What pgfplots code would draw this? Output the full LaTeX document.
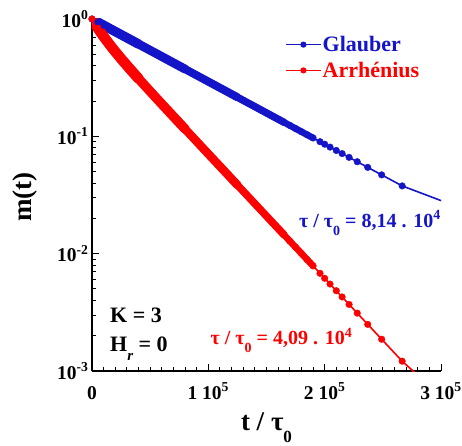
\documentclass[border=0pt]{standalone}
\usepackage{fontspec}
\setmainfont{Liberation Serif}
\usepackage{pgfplots}
\usepackage{pgfplotstable}
\pgfplotsset{compat=1.18}
\definecolor{bl}{RGB}{20,20,200}
\definecolor{rd}{RGB}{255,0,0}
\newcommand{\lo}[3]{\raisebox{#1}{\fontsize{#2}{#2}\selectfont #3}}

\pgfplotstableread{
t m
0 1
5000 0.94042
10000 0.88439
15000 0.83170
20000 0.78215
25000 0.73555
30000 0.69173
35000 0.65052
40000 0.61176
45000 0.57531
50000 0.54103
55000 0.50880
60000 0.47848
65000 0.44997
70000 0.42316
75000 0.39795
80000 0.37424
85000 0.35194
90000 0.33097
95000 0.31125
100000 0.29271
105000 0.27527
110000 0.25887
115000 0.24345
120000 0.22894
125000 0.21530
130000 0.20248
135000 0.19041
140000 0.17907
145000 0.16840
150000 0.15837
155000 0.14893
160000 0.14006
165000 0.13171
170000 0.12386
175000 0.11648
180000 0.10954
185000 0.10302
190000 0.09688
196000 0.09001
200000 0.08569
204600 0.08098
210000 0.07579
215000 0.07127
221000 0.06621
228000 0.06075
237000 0.05439
249000 0.04694
266600 0.03781
310000 0.02600
}\blue

\pgfplotstableread{
t m
0 1
5000 0.8346
10000 0.7082
15000 0.6083
20000 0.5269
25000 0.4592
30000 0.4020
35000 0.3530
40000 0.3106
45000 0.2738
50000 0.2417
55000 0.2134
60000 0.1886
65000 0.1668
70000 0.1475
75000 0.1305
80000 0.1154
85000 0.10217
90000 0.09042
95000 0.08000
100000 0.07079
105000 0.06266
110000 0.05546
115000 0.04909
120000 0.04345
125000 0.03846
130000 0.03404
135000 0.03013
140000 0.02667
145000 0.02360
150000 0.02089
155000 0.01849
160000 0.01637
165000 0.01449
170000 0.01282
175000 0.01135
180000 0.01005
185000 0.008892
190000 0.007870
196000 0.006800
200000 0.006166
204600 0.005511
210000 0.004831
215000 0.004276
221000 0.003692
228000 0.003113
237000 0.002498
249000 0.001865
266600 0.001213
290000 0.000750
}\red

\begin{document}
\begin{tikzpicture}
\path[use as bounding box] (-92bp,-75bp) rectangle (370bp,371bp);
\begin{axis}[
  at={(0,0)}, anchor=south west,
  scale only axis, width=349bp, height=352bp,
  xmin=0, xmax=300000, ymin=1e-3, ymax=1, ymode=log,
  axis x line=bottom, axis y line=left,
  axis line style={-, line width=1.3bp, black},
  tick align=inside,
  major tick length=7bp, minor tick length=4bp,
  every tick/.style={black, line width=1bp},
  scaled x ticks=false,
  xtick={0,100000,200000,300000},
  xticklabels={0, 1 10\textsuperscript{5}, 2 10\textsuperscript{5}, 3 10\textsuperscript{5}},
  minor x tick num=9,
  ytick={0.001,0.01,0.1,1},
  yticklabels={10\textsuperscript{-3}, 10\textsuperscript{-2}, 10\textsuperscript{-1}, 10\textsuperscript{0}},
  tick label style={font=\fontsize{19.5bp}{20bp}\selectfont\bfseries},
  xticklabel style={anchor=base, yshift=-28bp},
  xlabel={t / τ\lo{-12bp}{17bp}{0}},
  ylabel={m(t)},
  label style={font=\fontsize{27bp}{27bp}\selectfont\bfseries},
  xlabel style={at={(axis description cs:0.5,-0.1676)}, anchor=base},
  ylabel style={at={(axis description cs:-0.192,0.494)}, anchor=center},
  legend image code/.code={\draw[mark repeat=2,mark phase=2,#1] plot coordinates {(0bp,0bp) (17.5bp,0bp) (35bp,0bp)};},
  legend style={at={(0.553,0.8906)}, anchor=west, draw=none, fill=none, inner sep=0pt,
    row sep=7bp, font=\fontsize{22bp}{22bp}\selectfont\bfseries, nodes={inner sep=1bp}},
  legend cell align=left,
  band/.style={line cap=round, line join=round, forget plot},
]
\addlegendimage{bl, line width=1.5bp, mark=*, mark size=2.3bp}
\addlegendentry{\textcolor{bl}{Glauber}}
\addlegendimage{rd, line width=1.5bp, mark=*, mark size=2.3bp}
\addlegendentry{\textcolor{rd}{Arrhénius}}

\addplot[bl, band, line width=9.5bp, restrict x to domain=0:40000] table {\blue};
\addplot[bl, band, line width=8.8bp, restrict x to domain=0:80000] table {\blue};
\addplot[bl, band, line width=8bp, restrict x to domain=0:125000] table {\blue};
\addplot[bl, band, line width=7.3bp, restrict x to domain=0:165000] table {\blue};
\addplot[bl, band, line width=6.6bp, restrict x to domain=0:190000] table {\blue};
\addplot[bl, line width=1.6bp, forget plot] table {\blue};
\addplot[bl, only marks, mark=*, mark size=3.3bp, forget plot, restrict x to domain=0:300000] table {\blue};

\addplot[rd, band, line width=10.5bp, restrict x to domain=0:40000] table {\red};
\addplot[rd, band, line width=9.5bp, restrict x to domain=0:80000] table {\red};
\addplot[rd, band, line width=8.5bp, restrict x to domain=0:125000] table {\red};
\addplot[rd, band, line width=7.5bp, restrict x to domain=0:165000] table {\red};
\addplot[rd, band, line width=6.6bp, restrict x to domain=0:190000] table {\red};
\addplot[rd, line width=1.6bp, forget plot] table {\red};
\addplot[rd, only marks, mark=*, mark size=3.3bp, forget plot, restrict x to domain=0:275000] table {\red};

\node[anchor=base, text=bl, font=\fontsize{20bp}{20bp}\selectfont\bfseries] at (rel axis cs:0.7966,0.409) {τ / τ\lo{-8bp}{14bp}{0} = 8,14 . 10\textsuperscript{4}};
\node[anchor=base, text=rd, font=\fontsize{20bp}{20bp}\selectfont\bfseries] at (rel axis cs:0.543,0.0739) {τ / τ\lo{-8bp}{14bp}{0} = 4,09 . 10\textsuperscript{4}};
\node[anchor=base west, font=\fontsize{22bp}{22bp}\selectfont\bfseries, inner sep=0pt] at (rel axis cs:0.0516,0.139) {K = 3};
\node[anchor=base west, font=\fontsize{22bp}{22bp}\selectfont\bfseries, inner sep=0pt] at (rel axis cs:0.0516,0.0548) {H\lo{-9bp}{15bp}{\itshape r} = 0};
\end{axis}
\end{tikzpicture}
\end{document}
